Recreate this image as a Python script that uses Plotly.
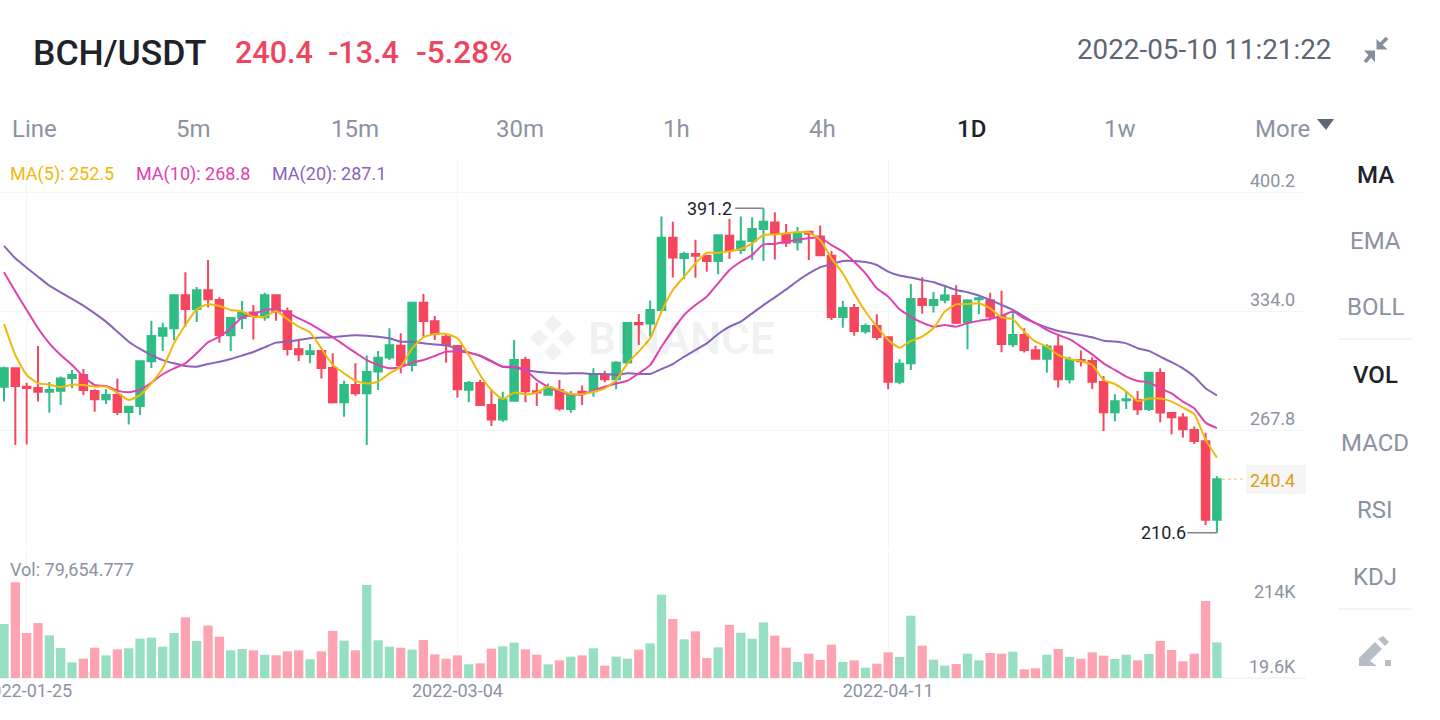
import pandas as pd
import plotly.graph_objects as go

W = 1440
H = 720
FONT = "Roboto"

# daily candles, BCH/USDT
dates = pd.date_range("2022-01-23", periods=108, freq="D")

opens = [291.9, 302.1, 291.9, 291.2, 289.1, 289.7, 296.7, 298.4, 289.5, 284.9, 287.3, 277.8, 281.2, 306.0, 320.3, 324.4, 342.7, 335.1, 345.5, 340.1,
         320.5, 330.1, 333.1, 330.5, 342.7, 333.8, 312.7, 310.1, 311.7, 302.3, 283.2, 292.8, 288.2, 300.3, 308.2, 314.7, 304.0, 338.6, 328.3, 319.7,
         314.5, 290.2, 293.9, 281.7, 273.7, 284.1, 306.7, 289.3, 287.4, 289.9, 279.5, 289.1, 289.3, 298.4, 296.0, 305.4, 327.3, 327.1, 334.5, 374.8,
         363.5, 365.7, 364.6, 361.8, 375.9, 367.9, 372.9, 379.6, 383.3, 376.6, 372.2, 378.1, 375.5, 364.8, 330.6, 335.7, 322.7, 325.7, 319.4, 294.7,
         304.9, 340.7, 337.4, 340.3, 342.4, 327.9, 340.5, 340.0, 330.9, 315.5, 320.7, 312.1, 307.5, 314.2, 296.0, 306.8, 306.2, 294.5, 277.7, 284.3,
         284.5, 279.5, 299.5, 277.3, 274.7, 267.8, 261.5, 217.9]
highs = [303.0, 302.3, 294.1, 314.5, 294.5, 297.5, 301.2, 301.7, 290.4, 290.4, 296.5, 281.2, 306.4, 328.6, 327.5, 343.3, 355.5, 347.4, 362.4, 341.6,
         330.1, 339.6, 337.3, 344.2, 342.7, 335.9, 318.6, 315.6, 312.3, 310.5, 295.2, 304.9, 309.2, 311.7, 324.4, 321.6, 338.6, 343.5, 331.2, 321.2,
         315.1, 295.0, 295.6, 290.4, 289.1, 317.9, 308.6, 294.1, 293.7, 295.6, 289.5, 292.6, 302.1, 300.8, 306.2, 327.9, 332.3, 339.9, 386.5, 383.7,
         367.0, 373.7, 365.1, 376.6, 385.2, 386.6, 386.1, 391.2, 388.9, 382.4, 380.7, 378.1, 381.6, 367.4, 339.6, 337.9, 327.1, 332.2, 319.8, 307.1,
         349.0, 352.8, 344.6, 347.6, 348.3, 340.5, 342.0, 344.2, 345.3, 334.6, 324.4, 314.6, 315.5, 321.2, 308.6, 312.0, 308.3, 297.9, 287.7, 289.2,
         289.5, 299.7, 302.1, 277.7, 277.1, 269.7, 266.3, 242.1]
lows = [283.6, 259.5, 259.8, 283.6, 277.4, 281.7, 291.0, 287.3, 278.0, 282.3, 276.1, 270.9, 276.1, 302.3, 311.7, 317.7, 325.3, 327.9, 336.0, 316.4,
        311.7, 324.0, 318.2, 328.6, 328.6, 309.2, 306.0, 304.9, 296.4, 282.5, 275.2, 286.9, 259.5, 290.1, 306.7, 299.3, 300.3, 319.7, 317.9, 305.2,
        285.8, 283.2, 281.3, 270.0, 272.4, 283.5, 283.2, 281.1, 287.1, 278.5, 277.4, 281.7, 286.3, 294.3, 290.4, 305.2, 315.1, 319.7, 334.5, 352.7,
        351.6, 352.5, 355.9, 354.4, 362.9, 365.7, 362.4, 361.8, 362.7, 369.6, 367.6, 362.4, 364.8, 329.0, 324.7, 320.3, 321.4, 317.9, 290.5, 293.2,
        301.2, 332.4, 333.1, 338.3, 326.8, 312.7, 332.2, 328.7, 311.0, 314.0, 310.9, 307.1, 299.7, 291.4, 293.6, 303.1, 290.6, 267.3, 272.6, 279.5,
        276.2, 278.4, 272.1, 265.4, 263.6, 260.0, 215.0, 210.6]
closes = [302.1, 292.3, 291.2, 289.1, 290.1, 296.5, 298.4, 290.1, 284.9, 287.3, 277.8, 280.8, 306.0, 320.1, 324.4, 342.7, 335.1, 345.5, 340.5, 320.6,
          330.1, 332.9, 331.2, 342.7, 333.6, 312.9, 309.9, 311.6, 302.3, 283.2, 292.8, 288.2, 300.1, 308.0, 314.9, 304.0, 338.6, 328.4, 321.2, 314.9,
          290.4, 293.9, 281.7, 273.7, 284.7, 306.7, 289.3, 288.6, 291.5, 279.7, 286.9, 288.4, 298.9, 296.0, 305.2, 327.3, 326.6, 334.5, 374.8, 363.7,
          365.7, 364.8, 361.8, 376.1, 367.9, 372.6, 379.6, 383.7, 376.8, 372.0, 377.2, 377.0, 365.0, 330.6, 335.7, 322.9, 325.6, 319.6, 294.7, 304.7,
          340.7, 337.4, 340.1, 342.6, 327.5, 339.8, 341.1, 330.9, 315.7, 320.7, 312.3, 307.5, 314.2, 296.0, 306.8, 306.0, 294.7, 277.7, 283.8, 284.9,
          279.3, 299.7, 277.5, 274.9, 268.2, 261.7, 217.9, 240.4]

ma5 = [326.8, 309.5, 298.4, 293.8, 293.0, 291.7, 293.0, 292.8, 291.9, 291.9, 288.6, 284.5, 287.3, 293.8, 302.1, 316.0, 326.2, 334.9, 337.7, 336.8,
       334.6, 333.8, 330.8, 330.8, 334.0, 329.4, 325.3, 322.0, 313.2, 304.0, 299.3, 295.2, 293.6, 294.7, 299.3, 303.0, 313.2, 319.4, 321.2, 321.2,
       318.8, 309.5, 298.4, 290.0, 285.0, 288.6, 287.6, 288.6, 291.9, 290.0, 287.8, 287.8, 289.1, 291.0, 295.6, 304.9, 311.4, 318.8, 333.6, 345.7,
       353.1, 360.5, 366.4, 366.4, 367.2, 368.5, 371.6, 376.3, 376.6, 377.2, 377.9, 377.7, 373.5, 363.3, 354.9, 343.8, 333.6, 325.3, 317.9, 313.6,
       317.3, 319.8, 324.4, 333.7, 337.7, 337.9, 338.3, 335.5, 330.5, 329.4, 322.5, 317.0, 314.2, 309.6, 307.3, 306.2, 304.0, 295.6, 293.4, 289.2,
       284.0, 285.3, 285.3, 283.6, 280.3, 276.6, 262.3, 252.5]
ma10 = [355.5, 344.8, 334.6, 324.4, 316.0, 309.5, 304.0, 297.5, 292.8, 292.3, 289.7, 288.8, 290.1, 294.1, 298.8, 302.1, 304.9, 310.5, 316.6, 319.7,
        324.4, 330.5, 332.3, 334.6, 334.9, 333.1, 329.9, 326.8, 323.1, 319.4, 315.1, 310.8, 306.7, 304.0, 302.1, 302.7, 305.3, 306.7, 309.0, 311.4,
        311.4, 310.8, 309.1, 305.8, 303.0, 303.0, 301.2, 295.6, 291.9, 289.1, 287.6, 287.6, 289.7, 291.9, 293.7, 295.2, 299.3, 303.9, 314.1, 323.4,
        331.8, 337.3, 342.0, 349.4, 356.8, 361.4, 365.1, 371.1, 371.3, 372.6, 373.5, 374.6, 374.8, 370.7, 367.0, 361.4, 354.9, 346.6, 342.0, 335.0,
        330.9, 327.5, 325.3, 326.2, 325.3, 327.2, 328.5, 329.6, 331.2, 333.7, 329.9, 327.2, 323.5, 320.7, 318.3, 314.2, 309.9, 304.9, 301.2, 297.5,
        295.1, 294.3, 291.0, 288.2, 283.6, 279.9, 271.9, 268.8]
ma20 = [370.2, 363.3, 358.1, 353.1, 348.1, 344.4, 340.7, 337.0, 332.7, 328.1, 322.5, 316.9, 312.9, 309.5, 306.7, 304.9, 303.4, 303.0, 304.5, 305.8,
        307.3, 309.2, 311.2, 313.8, 316.4, 316.9, 317.9, 318.8, 319.2, 319.4, 320.1, 320.5, 320.3, 319.7, 318.8, 316.9, 316.9, 316.0, 315.3, 315.1,
        312.7, 311.0, 309.1, 306.2, 303.0, 302.6, 301.2, 300.2, 299.7, 299.3, 299.3, 299.3, 299.0, 299.0, 298.4, 299.3, 299.0, 299.0, 301.7, 304.5,
        308.6, 312.3, 316.0, 321.2, 325.3, 328.1, 332.7, 337.3, 341.6, 346.0, 350.7, 354.9, 358.3, 360.1, 361.8, 361.8, 361.2, 359.6, 355.9, 353.7,
        352.6, 351.3, 350.0, 347.9, 345.7, 344.4, 342.6, 340.1, 337.4, 334.6, 330.9, 327.2, 324.8, 322.9, 321.8, 320.7, 319.4, 317.5, 317.0, 316.0,
        313.3, 311.8, 308.6, 305.5, 302.1, 297.5, 291.0, 287.1]

# volume in thousands
volume = [120.8, 214.0, 100.7, 123.0, 95.4, 67.1, 35.0, 43.2, 67.8, 50.7, 64.1, 66.4, 88.0, 90.2, 70.1, 100.7, 135.7, 82.8, 117.1, 92.5,
          61.9, 64.9, 61.9, 52.2, 50.7, 59.6, 61.9, 41.8, 59.6, 105.1, 83.5, 61.9, 208.0, 84.3, 70.1, 67.8, 63.4, 85.0, 52.9, 43.2,
          50.7, 30.6, 32.8, 65.6, 70.8, 79.0, 64.1, 52.2, 30.6, 39.5, 47.7, 50.7, 66.4, 27.6, 47.7, 43.2, 63.4, 77.5, 186.4, 132.0,
          86.5, 104.4, 44.7, 68.6, 118.6, 101.4, 88.0, 124.5, 94.7, 67.8, 35.8, 54.4, 40.3, 74.6, 35.8, 39.5, 23.1, 32.1, 57.4, 47.0,
          139.4, 72.3, 41.0, 27.6, 31.3, 54.4, 39.5, 55.9, 54.4, 58.9, 19.6, 21.6, 52.2, 64.9, 47.0, 43.2, 57.4, 50.0, 42.5, 52.2,
          39.5, 53.7, 82.8, 62.6, 37.3, 54.4, 172.2, 79.65]

price_ticks = [400.2, 334.0, 267.8, 201.5]
date_ticks = ["2022-01-25", "2022-03-04", "2022-04-11"]
tabs = ["Line", "5m", "15m", "30m", "1h", "4h", "1D", "1w", "More"]
tab_x = [34, 193, 355, 520, 676, 822, 971, 1120, 1282]
indicators = ["MA", "EMA", "BOLL", "VOL", "MACD", "RSI", "KDJ"]
indicator_y = [175, 241, 307, 375, 443, 510, 577]

GREEN = "#2EBD85"
RED = "#F6465D"
GREEN_VOL = "#97DFC2"
RED_VOL = "#FDA3B1"
YELLOW = "#F0B90B"
PINK = "#E040B0"
PURPLE = "#8A63BD"
GRAY = "#8B93A1"
DARK = "#1E2329"
GRID = "#F5F5F5"


def px(x):
    return x / W


def py(y):
    return 1 - y / H


def label(text, x, y, size, color, anchor="left", weight=400):
    # annotations carry about 2px of padding
    shift = {"left": -2, "right": 2, "center": 0}[anchor]
    return dict(text=text, x=px(x + shift), y=py(y), xref="paper", yref="paper", xanchor=anchor, yanchor="middle",
                showarrow=False, font=dict(family=FONT, size=size, color=color, weight=weight))


def poly(points, color):
    path = "M" + " L".join(f"{px(a):.5f},{py(b):.5f}" for a, b in points) + " Z"
    return dict(type="path", path=path, xref="paper", yref="paper", fillcolor=color, line=dict(width=0), layer="above")


def stroke(x0, y0, x1, y1, color, width):
    return dict(type="line", x0=px(x0), y0=py(y0), x1=px(x1), y1=py(y1), xref="paper", yref="paper",
                line=dict(color=color, width=width), layer="above")


fig = go.Figure()

fig.add_trace(go.Candlestick(x=dates, open=opens, high=highs, low=lows, close=closes,
                             increasing=dict(line=dict(color=GREEN, width=2), fillcolor=GREEN),
                             decreasing=dict(line=dict(color=RED, width=2), fillcolor=RED),
                             whiskerwidth=0, hoverinfo="skip"))
for values, color in [(ma20, PURPLE), (ma10, PINK), (ma5, YELLOW)]:
    fig.add_trace(go.Scatter(x=dates, y=values, mode="lines", line=dict(color=color, width=2, shape="spline", smoothing=0.5),
                             hoverinfo="skip"))

vol_colors = [GREEN_VOL if c >= o else RED_VOL for o, c in zip(opens, closes)]
fig.add_trace(go.Bar(x=dates, y=volume, marker=dict(color=vol_colors, line=dict(width=0)), yaxis="y2", hoverinfo="skip"))

annotations = [
    label("BCH/USDT", 33, 53, 35.5, DARK, weight=500),
    label("240.4", 235, 53, 30.5, "#EE4560", weight=500),
    label("-13.4", 328, 53, 30.5, "#EE4560", weight=500),
    label("-5.28%", 416, 53, 31.5, "#EE4560", weight=500),
    label("2022-05-10 11:21:22", 1331, 50, 27.8, "#5E6673", anchor="right"),
    label("MA(5): 252.5", 10, 174, 18, YELLOW),
    label("MA(10): 268.8", 136, 174, 18, PINK),
    label("MA(20): 287.1", 272, 174, 18, PURPLE),
    label("Vol: 79,654.777", 10, 569, 18, GRAY),
    label("214K", 1296, 591, 18, GRAY, anchor="right"),
    label("19.6K", 1296, 666, 18, GRAY, anchor="right"),
    label("240.4", 1295, 480, 18, "#D9A013", anchor="right"),
    label("BINANCE", 588, 339, 44, "rgba(30,35,41,0.06)", weight=700),
]
for t, x in zip(tabs, tab_x):
    annotations.append(label(t, x, 129, 24, DARK if t == "1D" else GRAY, anchor="center", weight=500 if t == "1D" else 400))
for t, y in zip(indicators, indicator_y):
    active = t in ("MA", "VOL")
    annotations.append(label(t, 1375, y, 24, DARK if active else GRAY, anchor="center", weight=500 if active else 400))
for p in price_ticks:
    annotations.append(dict(text=f"{p:.1f}", x=px(1297), y=p, xref="paper", yref="y", xanchor="right", yanchor="middle",
                            yshift=12, showarrow=False, font=dict(family=FONT, size=18, color=GRAY)))
# max and min markers
annotations.append(dict(text="391.2", x=dates[67], y=max(highs), xref="x", yref="y", xanchor="right", yanchor="middle",
                        xshift=-29, showarrow=False, font=dict(family=FONT, size=18, color=DARK)))
annotations.append(dict(text="210.6", x=dates[107], y=min(lows), xref="x", yref="y", xanchor="right", yanchor="middle",
                        xshift=-29, showarrow=False, font=dict(family=FONT, size=18, color=DARK)))

shapes = [
    dict(type="rect", x0=px(1246), x1=px(1306), y0=py(494), y1=py(465), xref="paper", yref="paper",
         fillcolor="#F5F5F5", line=dict(width=0), layer="below"),
    dict(type="line", x0=px(1222), x1=px(1246), xref="paper", y0=closes[-1], y1=closes[-1], yref="y",
         line=dict(color="#F8D98A", width=1.5, dash="3px,3px")),
    dict(type="line", x0=dates[67] - pd.Timedelta(days=2.5), x1=dates[67], y0=max(highs), y1=max(highs), xref="x", yref="y",
         line=dict(color="#5E6673", width=1.2)),
    dict(type="line", x0=dates[107] - pd.Timedelta(days=2.6), x1=dates[107], y0=min(lows), y1=min(lows), xref="x", yref="y",
         line=dict(color="#5E6673", width=1.2)),
    # menu separators
    stroke(1338, 339, 1412, 339, "#F0F1F2", 1.5),
    stroke(1338, 609, 1412, 609, "#F0F1F2", 1.5),
    # more arrow
    poly([(1317, 119), (1334, 119), (1326, 130)], "#5E6673"),
    # collapse icon
    poly([(1376.5, 39), (1376.5, 49.5), (1387.5, 49.5)], "#848E9C"),
    poly([(1364, 50.5), (1375, 50.5), (1375, 62)], "#848E9C"),
    stroke(1380, 45, 1387, 38, "#848E9C", 3.5),
    stroke(1371, 55, 1365, 62, "#848E9C", 3.5),
    # pencil icon
    poly([(1359, 658), (1375, 642), (1382, 649), (1370, 661), (1377, 666), (1359, 666)], "#B7BDC6"),
    poly([(1378, 639), (1383, 636), (1389, 642), (1385, 646)], "#B7BDC6"),
    poly([(1385, 660), (1391, 660), (1391, 666), (1385, 666)], "#B7BDC6"),
    # watermark logo
    poly([(553, 315), (562, 324), (553, 333), (544, 324)], "#F0F1F2"),
    poly([(553, 343), (562, 352), (553, 361), (544, 352)], "#F0F1F2"),
    poly([(539, 329), (548, 338), (539, 347), (530, 338)], "#F0F1F2"),
    poly([(567, 329), (576, 338), (567, 347), (558, 338)], "#F0F1F2"),
]
for s in shapes[-4:]:
    s["layer"] = "below"

fig.update_layout(
    width=W, height=H, margin=dict(l=0, r=0, t=0, b=0, autoexpand=False), paper_bgcolor="white", plot_bgcolor="white",
    showlegend=False, bargap=0.18, boxgap=0.05, annotations=annotations, shapes=shapes,
    font=dict(family=FONT),
    xaxis=dict(type="date", domain=[0, px(1306)], range=["2022-01-22 15:32", "2022-05-17 20:38"], anchor="y2",
               rangeslider=dict(visible=False), tickvals=date_ticks, ticktext=date_ticks, ticks="",
               tickfont=dict(family=FONT, size=18, color=GRAY), ticklabeloverflow="allow", automargin=False,
               showgrid=True, gridcolor=GRID, zeroline=False, showline=False),
    yaxis=dict(domain=[py(549), py(160)], range=[201.6, 418.0], tickvals=price_ticks, showticklabels=False, ticks="",
               showgrid=True, gridcolor=GRID, zeroline=False, showline=False),
    yaxis2=dict(domain=[py(678), py(552)], range=[0, 281.9], showticklabels=False, ticks="", showgrid=False,
                zeroline=True, zerolinecolor=GRID, zerolinewidth=1.5, showline=False),
)

# page margin off so the figure sits at 0,0
fig.write_html("out.html", config=dict(displayModeBar=False), post_script="document.body.style.margin='0';")
